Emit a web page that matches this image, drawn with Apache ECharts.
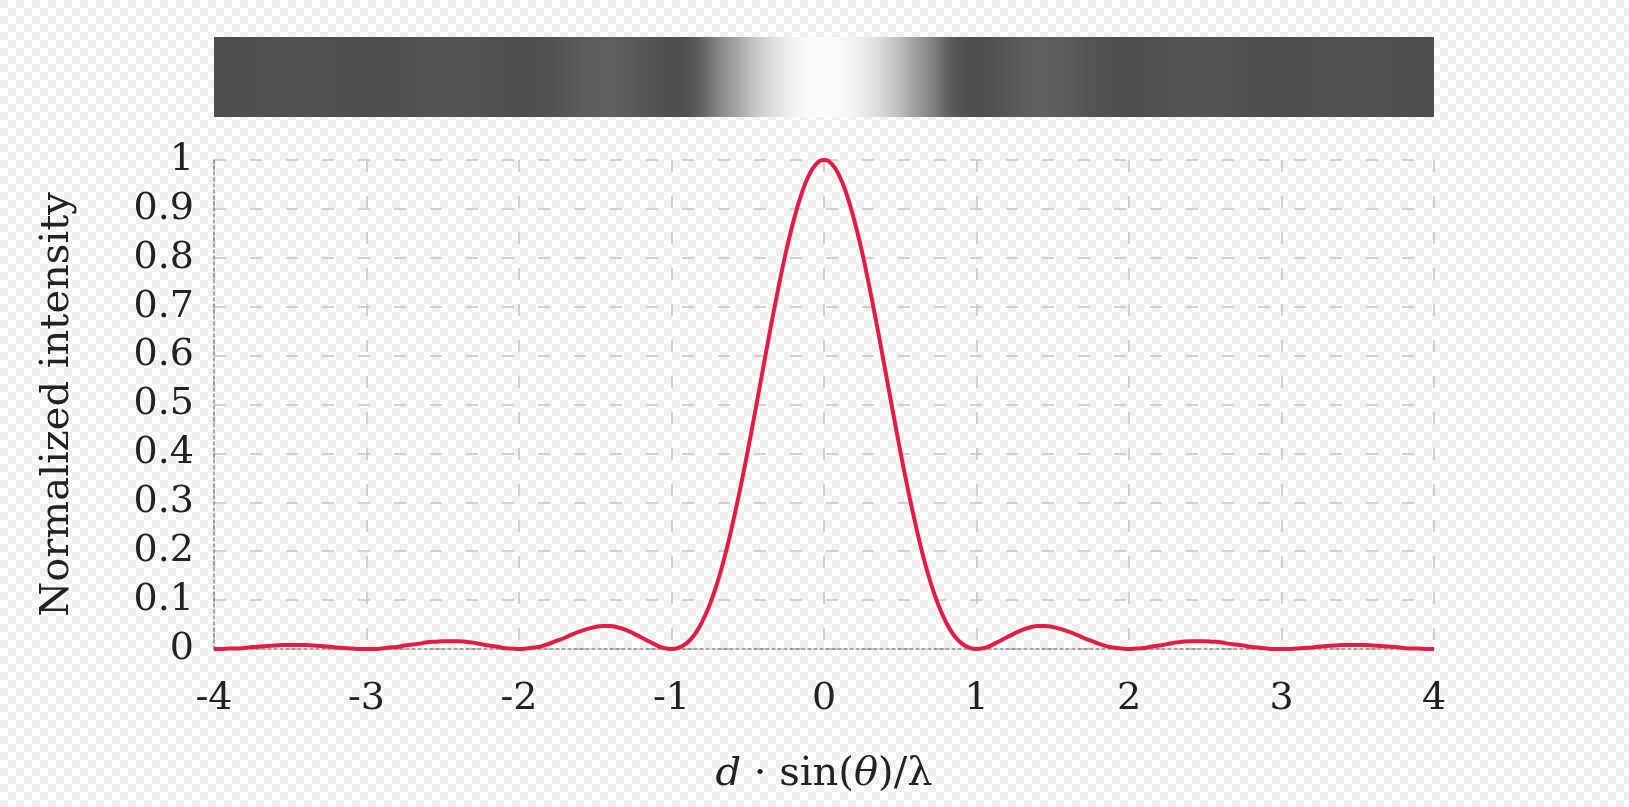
<!DOCTYPE html>
<html>
<head>
<meta charset="utf-8">
<style>
html, body {
  margin: 0;
  padding: 0;
  width: 100%;
  height: 100%;
  background: repeating-conic-gradient(#ffffff 0 25%, #efefef 0 50%) 0 0 / 16px 16px;
}
#chart {
  width: 1629px;
  height: 807px;
}
</style>
<script src="https://cdn.jsdelivr.net/npm/echarts@6/dist/echarts.min.js"></script>
</head>
<body>
<div id="chart"></div>
<script>
// d*sin(theta)/lambda positions
var xs = [
  -4, -3.95, -3.9, -3.85, -3.8, -3.75, -3.7, -3.65, -3.6, -3.55, -3.5, -3.45, -3.4, -3.35, -3.3, -3.25, -3.2, -3.15, -3.1, -3.05,
  -3, -2.95, -2.9, -2.85, -2.8, -2.75, -2.7, -2.65, -2.6, -2.55, -2.5, -2.45, -2.4, -2.35, -2.3, -2.25, -2.2, -2.15, -2.1, -2.05,
  -2, -1.95, -1.9, -1.85, -1.8, -1.75, -1.7, -1.65, -1.6, -1.55, -1.5, -1.45, -1.4, -1.35, -1.3, -1.25, -1.2, -1.15, -1.1, -1.05,
  -1, -0.95, -0.9, -0.85, -0.8, -0.75, -0.7, -0.65, -0.6, -0.55, -0.5, -0.45, -0.4, -0.35, -0.3, -0.25, -0.2, -0.15, -0.1, -0.05,
  0,
  0.05, 0.1, 0.15, 0.2, 0.25, 0.3, 0.35, 0.4, 0.45, 0.5, 0.55, 0.6, 0.65, 0.7, 0.75, 0.8, 0.85, 0.9, 0.95, 1,
  1.05, 1.1, 1.15, 1.2, 1.25, 1.3, 1.35, 1.4, 1.45, 1.5, 1.55, 1.6, 1.65, 1.7, 1.75, 1.8, 1.85, 1.9, 1.95, 2,
  2.05, 2.1, 2.15, 2.2, 2.25, 2.3, 2.35, 2.4, 2.45, 2.5, 2.55, 2.6, 2.65, 2.7, 2.75, 2.8, 2.85, 2.9, 2.95, 3,
  3.05, 3.1, 3.15, 3.2, 3.25, 3.3, 3.35, 3.4, 3.45, 3.5, 3.55, 3.6, 3.65, 3.7, 3.75, 3.8, 3.85, 3.9, 3.95, 4
];

// normalized intensity
var intensity = [
  0, 0, 0.001, 0.001, 0.002, 0.004, 0.005, 0.006, 0.007, 0.008, 0.008, 0.008, 0.008, 0.007, 0.006, 0.005, 0.003, 0.002, 0.001, 0,
  0, 0, 0.001, 0.003, 0.004, 0.007, 0.009, 0.011, 0.014, 0.015, 0.016, 0.016, 0.016, 0.015, 0.013, 0.010, 0.007, 0.005, 0.002, 0.001,
  0, 0.001, 0.003, 0.006, 0.011, 0.017, 0.023, 0.030, 0.036, 0.041, 0.045, 0.047, 0.047, 0.044, 0.039, 0.032, 0.024, 0.016, 0.008, 0.002,
  0, 0.003, 0.012, 0.029, 0.055, 0.090, 0.135, 0.190, 0.255, 0.327, 0.405, 0.488, 0.573, 0.657, 0.737, 0.811, 0.875, 0.928, 0.968, 0.992,
  1,
  0.992, 0.968, 0.928, 0.875, 0.811, 0.737, 0.657, 0.573, 0.488, 0.405, 0.327, 0.255, 0.190, 0.135, 0.090, 0.055, 0.029, 0.012, 0.003, 0,
  0.002, 0.008, 0.016, 0.024, 0.032, 0.039, 0.044, 0.047, 0.047, 0.045, 0.041, 0.036, 0.030, 0.023, 0.017, 0.011, 0.006, 0.003, 0.001, 0,
  0.001, 0.002, 0.005, 0.007, 0.010, 0.013, 0.015, 0.016, 0.016, 0.016, 0.015, 0.014, 0.011, 0.009, 0.007, 0.004, 0.003, 0.001, 0, 0,
  0, 0.001, 0.002, 0.003, 0.005, 0.006, 0.007, 0.008, 0.008, 0.008, 0.008, 0.007, 0.006, 0.005, 0.004, 0.002, 0.001, 0.001, 0, 0
];

var xTicks = [-4, -3, -2, -1, 0, 1, 2, 3, 4];
var yTicks = [0, 0.1, 0.2, 0.3, 0.4, 0.5, 0.6, 0.7, 0.8, 0.9, 1];

var font = "DejaVu Serif";
var textColor = "#222";
var gridColor = "#c4c4c4";

var chart = echarts.init(document.getElementById("chart"));

var lineData = xs.map(function (x, i) {
  return [x, intensity[i]];
});

// intensity strip: each segment blends the mapped colour of its two ends
function renderStrip(params, api) {
  var i = params.dataIndexInside;
  if (i >= xs.length - 1) return;
  var p0 = api.coord([xs[i], 1]);
  var p1 = api.coord([xs[i + 1], 0]);
  var c0 = api.visual("color", i);
  var c1 = api.visual("color", i + 1);
  var extra = i < xs.length - 2 ? 1 : 0;
  return {
    type: "rect",
    shape: {
      x: p0[0],
      y: p0[1],
      width: p1[0] - p0[0] + extra,
      height: p1[1] - p0[1]
    },
    style: {
      fill: new echarts.graphic.LinearGradient(0, 0, 1, 0, [
        { offset: 0, color: c0 },
        { offset: 1, color: c1 }
      ])
    }
  };
}

var option = {
  backgroundColor: "transparent",
  animation: false,
  grid: [
    { left: 214, right: 195, top: 160, bottom: 158 },
    { left: 214, right: 195, top: 37, height: 80 }
  ],
  visualMap: {
    show: false,
    type: "continuous",
    seriesIndex: 1,
    min: 0,
    max: 1,
    dimension: 1,
    inRange: {
      color: [
        "#4e4e4e", "#606060", "#7a7a7a", "#888888", "#939393", "#9d9d9d", "#a6a6a6",
        "#afafaf", "#bababa", "#c2c2c2", "#c9c9c9", "#cfcfcf", "#d5d5d5", "#dbdbdb",
        "#e0e0e0", "#e5e5e5", "#eaeaea", "#efefef", "#f4f4f4", "#f8f8f8", "#fcfcfc"
      ]
    }
  },
  xAxis: [
    {
      type: "value",
      gridIndex: 0,
      min: xTicks[0],
      max: xTicks[xTicks.length - 1],
      interval: 1,
      name: "{i|d} · sin({i|θ})/λ",
      nameLocation: "middle",
      nameGap: 106,
      nameTextStyle: {
        fontFamily: font,
        fontSize: 40,
        color: textColor,
        rich: {
          i: { fontFamily: font, fontStyle: "italic", fontSize: 40, color: textColor }
        }
      },
      axisLine: {
        show: true,
        onZero: false,
        lineStyle: { color: "#8a8a8a", width: 1.5, type: [3, 3] }
      },
      axisTick: { show: false },
      axisLabel: {
        margin: 31,
        fontFamily: font,
        fontSize: 38,
        color: textColor
      },
      splitLine: {
        show: true,
        lineStyle: { color: gridColor, width: 1.5, type: [12, 24] }
      }
    },
    {
      type: "value",
      gridIndex: 1,
      min: xTicks[0],
      max: xTicks[xTicks.length - 1],
      show: false
    }
  ],
  yAxis: [
    {
      type: "value",
      gridIndex: 0,
      min: yTicks[0],
      max: yTicks[yTicks.length - 1],
      interval: 0.1,
      name: "Normalized intensity",
      nameLocation: "middle",
      nameRotate: 90,
      nameGap: 136,
      nameTextStyle: {
        fontFamily: font,
        fontSize: 40,
        color: textColor
      },
      axisLine: {
        show: true,
        onZero: false,
        lineStyle: { color: "#8a8a8a", width: 1.5, type: [3, 3] }
      },
      axisTick: { show: false },
      axisLabel: {
        margin: 20,
        fontFamily: font,
        fontSize: 38,
        color: textColor
      },
      splitLine: {
        show: true,
        lineStyle: { color: gridColor, width: 1.5, type: [12, 24] }
      }
    },
    {
      type: "value",
      gridIndex: 1,
      min: 0,
      max: 1,
      show: false
    }
  ],
  series: [
    {
      name: "Intensity",
      type: "line",
      xAxisIndex: 0,
      yAxisIndex: 0,
      data: lineData,
      showSymbol: false,
      smooth: true,
      z: 5,
      lineStyle: { color: "#e31c47", width: 4 }
    },
    {
      name: "Pattern",
      type: "custom",
      xAxisIndex: 1,
      yAxisIndex: 1,
      data: lineData,
      renderItem: renderStrip
    }
  ]
};

chart.setOption(option);
</script>
</body>
</html>
